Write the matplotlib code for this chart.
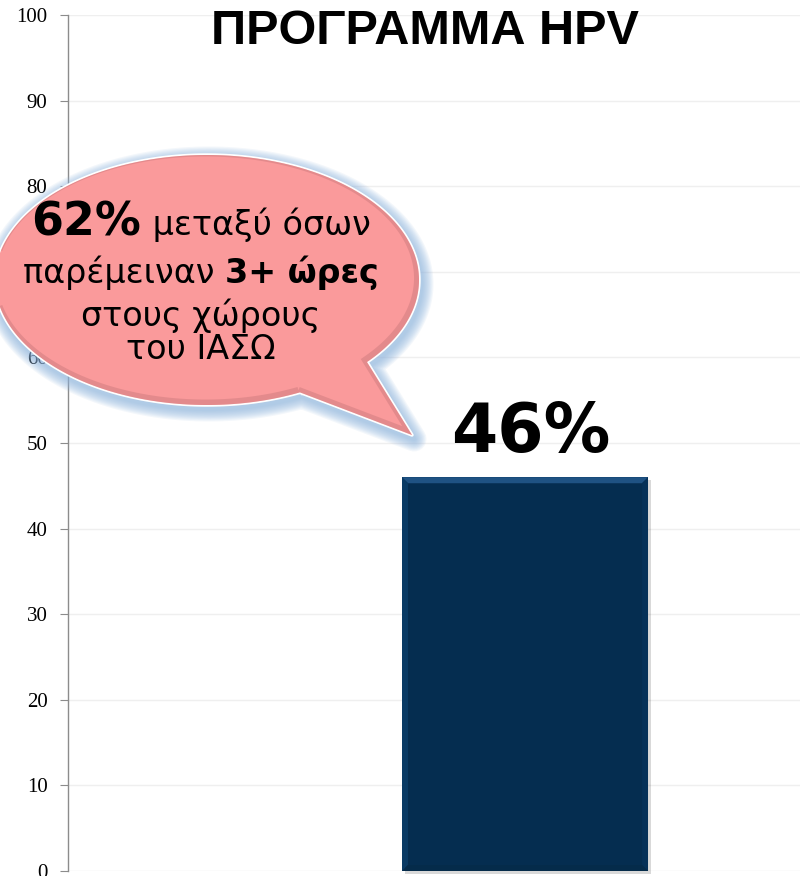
import numpy as np
import matplotlib
matplotlib.use("Agg")
import matplotlib.pyplot as plt
from matplotlib.path import Path
from matplotlib.patches import PathPatch, Polygon
from matplotlib.transforms import Affine2D, IdentityTransform
from matplotlib import font_manager

# ---- data -------------------------------------------------------------
categories = ["HPV"]
values = [46]
y_ticks = [0, 10, 20, 30, 40, 50, 60, 70, 80, 90, 100]
title_text = "ΠΡΟΓΡΑΜΜΑ HPV"
callout_pct = 62
callout_lines = [
    [(f"{callout_pct}%", "bold", 33), (" μεταξύ όσων", "normal", 24)],
    [("παρέμειναν ", "normal", 24), ("3+ ώρες", "bold", 24)],
    [("στους χώρους", "normal", 24)],
    [("του ΙΑΣΩ", "normal", 24)],
]

# ---- figure -----------------------------------------------------------
W, H = 800, 876
fig = plt.figure(figsize=(W / 100, H / 100), dpi=100)
fig.patch.set_facecolor("white")
ax = fig.add_axes([68 / W, 5 / H, 732 / W, 856 / H])

bars = ax.bar(categories, values, width=0.6, color="#07365f", zorder=3)
ax.set_xlim(-1.1146, 0.6707)
ax.set_ylim(0, 100)
ax.set_yticks(y_ticks)
ax.set_xticks([])
for s in ("top", "right", "bottom"):
    ax.spines[s].set_visible(False)
ax.spines["left"].set_color("#8c8c8c")
ax.spines["left"].set_linewidth(1.0)
ax.tick_params(axis="y", direction="out", length=5.8, width=0.8,
               color="#8c8c8c", pad=9, labelsize=15)
for lab in ax.get_yticklabels():
    lab.set_fontfamily("Liberation Serif")
# the 70 label sits entirely under the callout bubble
ax.get_yticklabels()[y_ticks.index(70)].set_visible(False)
ax.yaxis.grid(True, color="#efefef", lw=1.0)
ax.set_axisbelow(True)

# image-style pixel coordinates (origin top-left)
img = Affine2D().scale(1, -1).translate(0, H)

# ---- bar bevel and shadow --------------------------------------------
bar = bars[0]
(x0, y0) = ax.transData.transform((bar.get_x(), 0))
(x1, y1) = ax.transData.transform((bar.get_x() + bar.get_width(), bar.get_height()))
b = 6
shadow = Polygon([(x0 + 3, y0 - 3), (x1 + 3, y0 - 3), (x1 + 3, y1 - 3), (x0 + 3, y1 - 3)],
                 closed=True, fc="#000000", alpha=0.15, ec="none",
                 transform=IdentityTransform(), zorder=0.5)
fig.add_artist(shadow)
bevels = [
    ([(x0, y1), (x1, y1), (x1 - b, y1 - b), (x0 + b, y1 - b)], "#1f5283"),
    ([(x0, y1), (x0 + b, y1 - b), (x0 + b, y0 + b), (x0, y0)], "#093a64"),
    ([(x1, y1), (x1 - b, y1 - b), (x1 - b, y0 + b), (x1, y0)], "#063158"),
    ([(x0, y0), (x1, y0), (x1 - b, y0 + b), (x0 + b, y0 + b)], "#052b4a"),
]
for pts, col in bevels:
    fig.add_artist(Polygon(pts, closed=True, fc=col, ec="none",
                           transform=IdentityTransform(), zorder=1))

# value label above the bar
xc = (x0 + x1) / 2
fig.text(xc + 6, y1 + 25, f"{values[0]}%", transform=IdentityTransform(),
         ha="center", va="baseline", fontsize=48, fontweight="bold",
         family="DejaVu Sans", color="black")

# ---- title -------------------------------------------------------------
names = {f.name for f in font_manager.fontManager.ttflist}
title_family = "Liberation Sans Narrow" if "Liberation Sans Narrow" in names else "Liberation Sans"
title_size = 41 if title_family == "Liberation Sans Narrow" else 35
fig.text(425, 44, title_text, transform=img, ha="center", va="baseline",
         fontsize=title_size, fontweight="bold", family=title_family, color="black")

# ---- speech bubble -----------------------------------------------------
cx, cy, a, bb = 207, 280, 212, 125
tip = (412, 435)
base_up, base_lo = (363, 360), (298, 390)
t1 = np.arctan2((base_up[1] - cy) / bb, (base_up[0] - cx) / a)
t2 = np.arctan2((base_lo[1] - cy) / bb, (base_lo[0] - cx) / a)
ts = np.linspace(t2, t1 + 2 * np.pi, 300)
pts = [(cx + a * np.cos(t), cy + bb * np.sin(t)) for t in ts]
pts += [tip, pts[0]]
codes = [Path.MOVETO] + [Path.LINETO] * (len(pts) - 2) + [Path.CLOSEPOLY]
bubble = Path(pts, codes)

glow_tr = Affine2D().translate(2, 4) + img
for lw in np.linspace(18, 3, 10):
    fig.add_artist(PathPatch(bubble, fc="none", ec="#8db4de", lw=lw, alpha=0.10,
                             joinstyle="round", transform=glow_tr, zorder=5))
fig.add_artist(PathPatch(bubble, fc="none", ec="white", lw=2.5,
                         joinstyle="round", transform=img, zorder=6))
body = PathPatch(bubble, fc="#fa9a9b", ec="none", transform=img, zorder=7)
fig.add_artist(body)
rim = PathPatch(bubble, fc="none", ec="#c9777a", lw=5, alpha=0.45,
                transform=Affine2D().translate(-1.5, -2) + img, zorder=8)
fig.add_artist(rim)
rim.set_clip_path(body)

# bubble text, each line centred on the bubble
renderer = fig.canvas.get_renderer()
baselines = [235, 283, 326, 359]
text_cx = 201
for segs, yb in zip(callout_lines, baselines):
    arts = []
    for s, wgt, size in segs:
        t = fig.text(0, yb, s, transform=img, ha="left", va="baseline",
                     fontsize=size, fontweight=wgt, family="DejaVu Sans",
                     color="black", zorder=10)
        arts.append(t)
    widths = [t.get_window_extent(renderer).width for t in arts]
    x = text_cx - sum(widths) / 2
    for t, w in zip(arts, widths):
        t.set_x(x)
        x += w

fig.savefig("out.png", dpi=100, facecolor="white")
